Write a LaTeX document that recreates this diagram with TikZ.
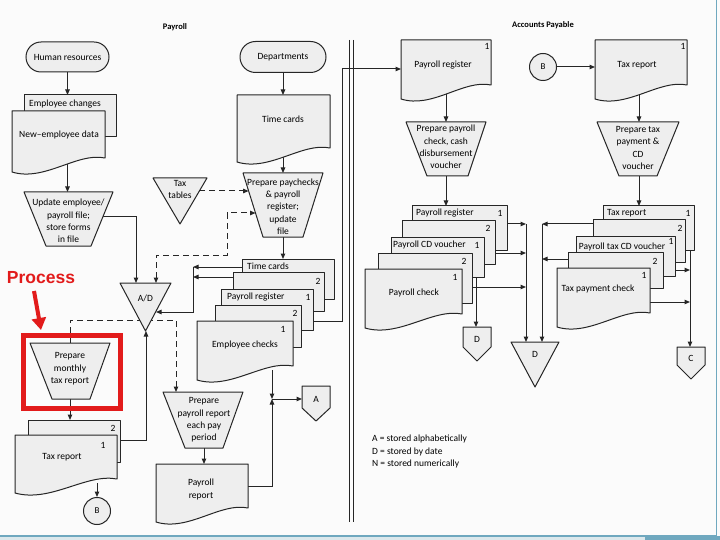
\documentclass[tikz,border=0pt]{standalone}
\usepackage{fontspec}
\setmainfont{Carlito}
\newfontfamily\procfont{Liberation Sans}
\usetikzlibrary{arrows.meta,shapes.misc}
\pgfdeclarelayer{back}\pgfdeclarelayer{bg}
\pgfsetlayers{back,bg,main}
\definecolor{shapefill}{HTML}{EEEEEE}
\definecolor{pagebg}{HTML}{FBFBFB}
\definecolor{hl}{HTML}{E21B1B}
\definecolor{framecol}{HTML}{6FA8BF}
\definecolor{framebot}{HTML}{DCE8EC}
\newcommand\DocShape[4]{\draw[shp] (#1,#2) -- (#3,#2) -- (#3,{#4-14}) .. controls ({#3-0.3*(#3-#1)},{#4-20}) and ({#1+0.35*(#3-#1)},{#4+10}) .. (#1,#4) -- cycle;}
\newcommand\CopyShape[4]{\draw[shp] (#1,#2) rectangle (#3,#4);}
\newcommand\TrapShape[6]{\draw[shp] (#1,#3) -- (#2,#3) -- (#5,#6) -- (#4,#6) -- cycle;}
\newcommand\TriDown[4]{\draw[shp] (#1,#3) -- (#2,#3) -- ({(#1+#2)/2},#4) -- cycle;}
\newcommand\OffPg[5]{\draw[shp] (#1,#3) -- (#2,#3) -- (#2,#4) -- ({(#1+#2)/2},#5) -- (#1,#4) -- cycle;}
\tikzset{
 shp/.style={draw=black!85, fill=shapefill, line width=1pt, line join=round},
 con/.style={draw=black!85, line width=1pt, -{Triangle[length=5.5pt,width=4.5pt]}},
 dcon/.style={con, dash pattern=on 6pt off 4pt},
 dcontwo/.style={dcon, {Triangle[length=5.5pt,width=4.5pt]}-{Triangle[length=5.5pt,width=4.5pt]}},
 plain/.style={draw=black!85, line width=1pt},
 txt/.style={font=\fontsize{9.5}{12.3}\selectfont, align=center, inner sep=0pt},
 ltxt/.style={txt, anchor=west},
 num/.style={font=\fontsize{9.5}{10}\selectfont, inner sep=0pt},
 term/.style={rounded rectangle, draw=black!85, fill=shapefill, line width=1pt, font=\fontsize{9.5}{10}\selectfont, inner sep=0pt},
 conn/.style={circle, draw=black!85, fill=shapefill, line width=1pt, font=\fontsize{9}{10}\selectfont, inner sep=0pt, minimum size=27pt},
 ttl/.style={font=\bfseries\fontsize{8.5}{9}\selectfont, inner sep=0pt}
}
\begin{document}
\begin{tikzpicture}[x=1pt,y=-1pt]
\useasboundingbox (0,0) rectangle (720,540);
\begin{pgfonlayer}{back}
\fill[pagebg] (0,0) rectangle (720,540);
\fill[framebot] (0,535.5) rectangle (720,540);
\draw[framecol, line width=1.2pt] (716.5,0) -- (716.5,536) -- (0,536);
\fill[framecol] (645,536) rectangle (720,540);
\end{pgfonlayer}

% titles and divider
\node[ttl] (t1) at (175,27) {Payroll};
\node[ttl] (t2) at (543,25) {Accounts Payable};
\draw[plain] (349,40) -- (349,522);
\draw[plain] (353,40) -- (353,522);

% ---------- left column ----------
\node[term, minimum width=83pt, minimum height=30pt] (hr) at (67.5,57) {Human resources};
\CopyShape{24}{95}{116}{137}
\node[ltxt] (ecT) at (29,104) {Employee changes};
\coordinate (ec-t) at (67.5,95);
\DocShape{12}{111}{105}{172}
\node[txt] (neT) at (59,135) {New–employee data};
\coordinate (ne-b) at (67.5,160);
\TrapShape{24}{113}{192}{46}{91}{246}
\node[txt] (upT) at (68.5,221) {Update employee/\\payroll file;\\store forms\\in file};
\coordinate (up-t) at (67.5,192);
\coordinate (up-r) at (102,217);

% A/D file
\TriDown{120}{171}{283}{331}
\node[txt] (adT) at (145.5,298) {A/D};
\coordinate (ad-t1) at (136,283);
\coordinate (ad-t2) at (156,283);
\coordinate (ad-apex) at (146,331);
\coordinate (ad-r) at (156,312);

% tax tables
\TriDown{153}{207}{178}{224}
\node[txt] (ttT) at (180,189.5) {Tax\\tables};
\coordinate (tt-r) at (199,191);

% departments / time cards / prepare paychecks
\node[term, minimum width=86pt, minimum height=31pt] (dep) at (283,57) {Departments};
\DocShape{237}{95}{330}{162}
\node[txt] (tcT) at (283,119) {Time cards};
\coordinate (tc-t) at (283,95);
\coordinate (tc-b) at (283,150);
\TrapShape{243}{323}{173}{263}{303}{237}
\node[txt] (pcT) at (283,206.5) {Prepare paychecks\\\& payroll\\register;\\update\\file};
\coordinate (pc-t) at (283,173);
\coordinate (pc-b) at (283,237);
\coordinate (pc-l1) at (248.6,191);
\coordinate (pc-l2) at (255.5,213);

% middle stack
\CopyShape{242}{259}{334}{299}
\node[ltxt] (s1T) at (247,266) {Time cards};
\CopyShape{233}{272}{324}{311}
\node[num] (s2N) at (318,281) {2};
\CopyShape{221}{289}{313}{330}
\node[ltxt] (s3T) at (227,297) {Payroll register};
\node[num] (s3N) at (308,297) {1};
\CopyShape{215}{305}{301}{347}
\node[num] (s4N) at (295,313) {2};
\DocShape{197}{321}{293}{380}
\node[num] (s5N) at (283,329) {1};
\node[txt] (s5T) at (245,345) {Employee checks};
\coordinate (tcs-t) at (283,259);
\coordinate (tcs-l) at (242,267);
\coordinate (c2-l) at (233,277);
\coordinate (mv1) at (193,267);
\coordinate (mv2) at (193,277);
\coordinate (mvb) at (193,312);
\coordinate (pr1-r) at (313,321);
\coordinate (rv-b) at (342,321);
\coordinate (rv-t) at (342,69);
\coordinate (ec-b) at (272,370);
\coordinate (jA) at (272,399);

% A connector
\OffPg{302}{330}{386}{408}{421}
\node[txt] (AT) at (316,399) {A};
\coordinate (A-l) at (302,399);

% prepare monthly tax report
\TrapShape{30}{110}{343}{52}{90}{399}
\node[txt] (mtT) at (70,369) {Prepare\\monthly\\tax report};
\coordinate (mt-t) at (70,343);
\coordinate (mt-b) at (70,399);

% tax report stack
\CopyShape{28}{420}{120}{462}
\node[num] (tr2N) at (113,428) {2};
\DocShape{15}{435}{117}{493}
\node[num] (tr1N) at (103,445) {1};
\node[txt] (tr1T) at (62,457) {Tax report};
\coordinate (tr2-t) at (70,420);
\coordinate (tr2-r) at (120,440);
\coordinate (trj) at (146,440);
\coordinate (tr1-b) at (97,483);
\node[conn] (B1) at (97,511) {B};

% prepare payroll report
\TrapShape{163}{243}{392}{185}{223}{448}
\node[txt] (prT) at (204,420) {Prepare\\payroll report\\each pay\\period};
\coordinate (prt-t) at (176,392);
\coordinate (prt-b) at (204,448);
\DocShape{156}{464}{248}{522}
\node[txt] (prdT) at (201,489.5) {Payroll\\report};
\coordinate (prd-t) at (204,464);
\coordinate (prd-r) at (248,486);
\coordinate (jB) at (272,486);

% ---------- accounts payable ----------
\DocShape{401}{40}{491}{99}
\node[num] (aprN) at (487,46) {1};
\node[txt] (aprT) at (443,65) {Payroll register};
\coordinate (apr-l) at (401,69);
\coordinate (apr-b) at (446,90);
\node[conn] (B2) at (543,67) {B};
\DocShape{595}{40}{687}{99}
\node[num] (atrN) at (683,46) {1};
\node[txt] (atrT) at (637,65) {Tax report};
\coordinate (atr-l) at (595,67);
\coordinate (atr-b) at (639,90);

\TrapShape{406}{486}{122}{427}{468}{176}
\node[txt] (apcT) at (446,147) {Prepare payroll\\check, cash\\disbursement\\voucher};
\coordinate (apc-t) at (446,122);
\coordinate (apc-b) at (446,176);
\TrapShape{597}{679}{122}{619}{657}{176}
\node[txt] (atpT) at (638,148) {Prepare tax\\payment \&\\CD\\voucher};
\coordinate (atp-t) at (639,122);
\coordinate (atp-b) at (639,176);

% AP left stack
\CopyShape{412}{206}{507}{250}
\node[ltxt] (a1T) at (416,213) {Payroll register};
\node[num] (a1N) at (500,213) {1};
\CopyShape{402}{221}{495}{264}
\node[num] (a2N) at (488,228) {2};
\CopyShape{391}{237}{484}{277}
\node[ltxt] (a3T) at (393,245) {Payroll CD voucher};
\node[num] (a3N) at (477,245) {1};
\CopyShape{378}{253}{472}{303}
\node[num] (a4N) at (464,261) {2};
\DocShape{365}{269}{462}{328}
\node[num] (a5N) at (455,277) {1};
\node[txt] (a5T) at (414,293) {Payroll check};
\coordinate (apr1-t) at (446,206);
\coordinate (apr1-r) at (507,224);
\coordinate (apr2-r) at (495,253);
\coordinate (acd2-r) at (472,287);
\coordinate (acd1-b) at (476,277);
\coordinate (lv1) at (526,224);
\coordinate (lv2) at (526,253);
\coordinate (lv3) at (526,287);

% AP right stack
\CopyShape{603}{206}{694}{250}
\node[ltxt] (b1T) at (607,213) {Tax report};
\node[num] (b1N) at (688,213) {1};
\CopyShape{593}{220}{685}{262}
\node[num] (b2N) at (680,228) {2};
\CopyShape{576}{236}{675}{276}
\node[txt] (b3T) at (622,247) {Payroll tax CD voucher};
\node[num] (b3N) at (671,241) {1};
\CopyShape{568}{252}{663}{288}
\node[num] (b4N) at (655,261) {2};
\DocShape{557}{268}{650}{327}
\node[num] (b5N) at (644,275) {1};
\node[txt] (b5T) at (598,289) {Tax payment check};
\coordinate (atr1-t) at (639,206);
\coordinate (atr1-b) at (690,250);
\coordinate (atr2-l) at (593,224);
\coordinate (atc2-l) at (568,259);
\coordinate (atc1-r) at (675,270);
\coordinate (atpc-r) at (650,302);
\coordinate (rv1) at (542,224);
\coordinate (rv2) at (542,259);
\coordinate (cv1) at (690,270);
\coordinate (cv2) at (690,302);

% files D, D, C
\OffPg{463}{491}{327}{347}{361}
\node[txt] (sDT) at (477,339) {D};
\coordinate (sD-t) at (476,327);
\TriDown{511}{559}{342}{387}
\node[txt] (bDT) at (535,354) {D};
\coordinate (bD-l) at (526,342);
\coordinate (bD-r) at (542,342);
\OffPg{677}{705}{347}{365}{379}
\node[txt] (CT) at (691,358) {C};
\coordinate (C-t) at (690,347);

% legend
\node[anchor=west, align=left, inner sep=0pt, font=\fontsize{9.5}{12.5}\selectfont] (leg) at (372,451.5) {A = stored alphabetically\\D = stored by date\\N = stored numerically};

% ---------- connectors ----------
\begin{pgfonlayer}{bg}
\draw[con] (hr.south) -- (ec-t);
\draw[con] (ne-b) -- (up-t);
\draw[con] (up-r) -- (136,217) -- (ad-t1);
\draw[dcontwo] (ad-t2) -- (156,255) -- (227,255) -- (227,213) -- (pc-l2);
\draw[dcon] (tt-r) -- (pc-l1);
\draw[con] (dep.south) -- (tc-t);
\draw[con] (tc-b) -- (pc-t);
\draw[con] (pc-b) -- (tcs-t);
\draw[con] (tcs-l) -- (mv1);
\draw[con] (c2-l) -- (mv2);
\draw[con] (mv1) -- (mvb) -- (ad-r);
\draw[con] (pr1-r) -- (rv-b) -- (rv-t) -- (apr-l);
\draw[con] (ec-b) -- (jA);
\draw[con] (prd-r) -- (jB) -- (jA);
\draw[con] (jA) -- (A-l);
\draw[dcon] (mt-t) -- (70,320) -- (176,320) -- (prt-t);
\draw[con] (mt-b) -- (tr2-t);
\draw[con] (tr2-r) -- (trj) -- (ad-apex);
\draw[con] (tr1-b) -- (B1.north);
\draw[con] (prt-b) -- (prd-t);
\draw[con] (B2.east) -- (atr-l);
\draw[con] (apr-b) -- (apc-t);
\draw[con] (atr-b) -- (atp-t);
\draw[con] (apc-b) -- (apr1-t);
\draw[con] (atp-b) -- (atr1-t);
\draw[con] (apr1-r) -- (lv1);
\draw[con] (apr2-r) -- (lv2);
\draw[con] (acd2-r) -- (lv3);
\draw[con] (lv1) -- (bD-l);
\draw[con] (acd1-b) -- (sD-t);
\draw[con] (atr2-l) -- (rv1);
\draw[con] (atc2-l) -- (rv2);
\draw[con] (rv1) -- (bD-r);
\draw[con] (atr1-b) -- (C-t);
\draw[con] (atc1-r) -- (cv1);
\draw[con] (atpc-r) -- (cv2);
\end{pgfonlayer}

% ---------- highlight ----------
\draw[hl, line width=5pt] (23.5,335.5) rectangle (120.5,408.5);
\node[font=\procfont\bfseries\fontsize{17.5}{18}\selectfont, text=hl, inner sep=0pt] (proc) at (41,278) {Process};
\coordinate (parr-s) at (34,291);
\coordinate (parr-e) at (41,330);
\draw[hl, line width=4pt, -{Triangle[length=12pt,width=14pt]}] (parr-s) -- (parr-e);
\end{tikzpicture}
\end{document}
